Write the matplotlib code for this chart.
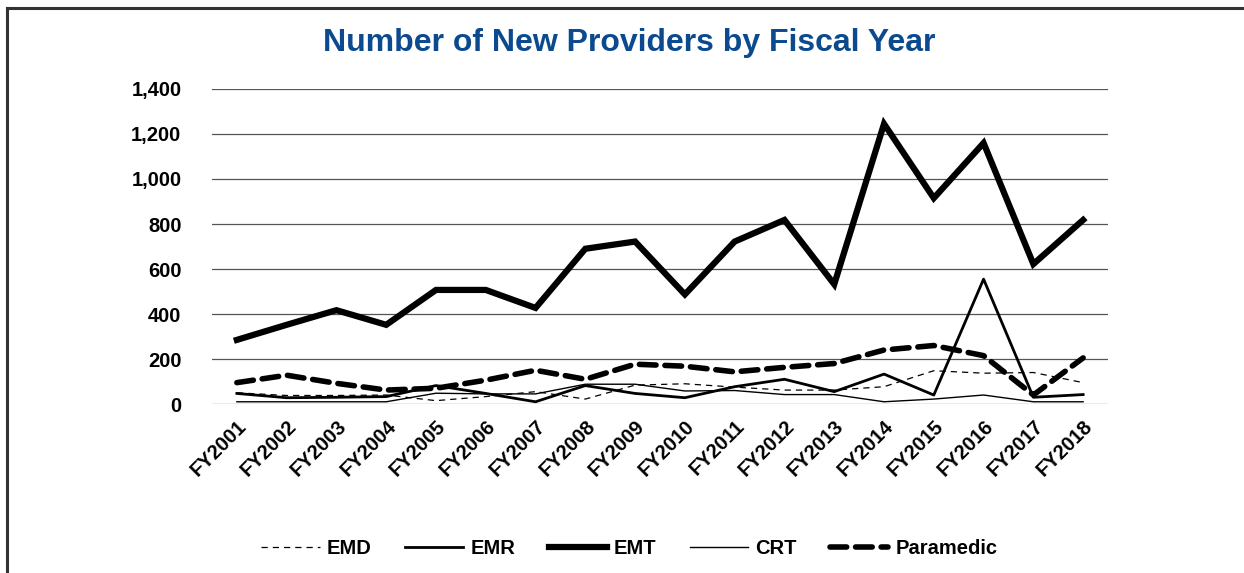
import numpy as np
import matplotlib.pyplot as plt
from matplotlib.lines import Line2D

plt.rcParams['font.family'] = ['Liberation Sans', 'DejaVu Sans']

years = ['FY2001', 'FY2002', 'FY2003', 'FY2004', 'FY2005', 'FY2006', 'FY2007',
         'FY2008', 'FY2009', 'FY2010', 'FY2011', 'FY2012', 'FY2013', 'FY2014',
         'FY2015', 'FY2016', 'FY2017', 'FY2018']

emd = [50, 38, 38, 40, 15, 33, 55, 22, 84, 90, 75, 62, 62, 77, 148, 137, 140, 95]
emr = [47, 28, 30, 33, 82, 47, 10, 82, 47, 28, 77, 110, 55, 133, 40, 555, 30, 42]
emt = [285, 352, 417, 352, 507, 507, 427, 690, 722, 487, 722, 818, 532, 1245,
       915, 1160, 622, 818]
crt = [10, 10, 10, 10, 48, 45, 45, 88, 88, 58, 60, 42, 42, 10, 22, 40, 10, 10]
paramedic = [95, 128, 92, 62, 70, 106, 150, 110, 177, 168, 143, 163, 180, 240,
             260, 215, 40, 205]

fig = plt.figure(figsize=(12.44, 5.73), dpi=100)
ax = fig.add_axes([0.1704, 0.2949, 0.7203, 0.5498])

x = np.arange(len(years))
ax.plot(x, emd, color='black', lw=0.9, ls=(0, (5, 4)), label='EMD')
ax.plot(x, emr, color='black', lw=2.0, label='EMR')
ax.plot(x, emt, color='black', lw=4.5, solid_joinstyle='miter', label='EMT')
ax.plot(x, crt, color='black', lw=1.0, label='CRT')
ax.plot(x, paramedic, color='black', lw=4.0, ls=(0, (3, 1.6)),
        dash_capstyle='round', label='Paramedic')

ax.set_xlim(-0.5, len(years) - 0.5)
ax.set_ylim(0, 1400)
ax.set_yticks(np.arange(0, 1401, 200))
ax.set_yticklabels([f'{v:,}' for v in range(0, 1401, 200)])
ax.set_xticks(x)
ax.set_xticklabels(years, rotation=45, ha='right', va='top',
                   rotation_mode='anchor')
ax.tick_params(length=0, labelsize=14.5)
ax.tick_params(axis='y', pad=22)
ax.tick_params(axis='x', pad=9)
for lab in ax.get_xticklabels() + ax.get_yticklabels():
    lab.set_fontweight('bold')
ax.grid(axis='y', color='#555555', lw=0.9)
ax.set_axisbelow(True)
for s in ax.spines.values():
    s.set_visible(False)

fig.suptitle('Number of New Providers by Fiscal Year', x=0.506, y=0.952,
             fontsize=23, fontweight='bold', color='#0b4a8f')

fig.legend(loc='center', bbox_to_anchor=(0.506, 0.043), ncol=5, frameon=False,
           handlelength=2.9, columnspacing=1.65, handletextpad=0.35,
           prop={'weight': 'bold', 'size': 14.5})

fig.add_artist(Line2D([0.006, 0.006], [0, 0.986], color='#333333', lw=2.2,
                      transform=fig.transFigure))
fig.add_artist(Line2D([0.006, 1.0], [0.986, 0.986], color='#333333', lw=2.2,
                      transform=fig.transFigure))

fig.savefig('out.png', dpi=100)
